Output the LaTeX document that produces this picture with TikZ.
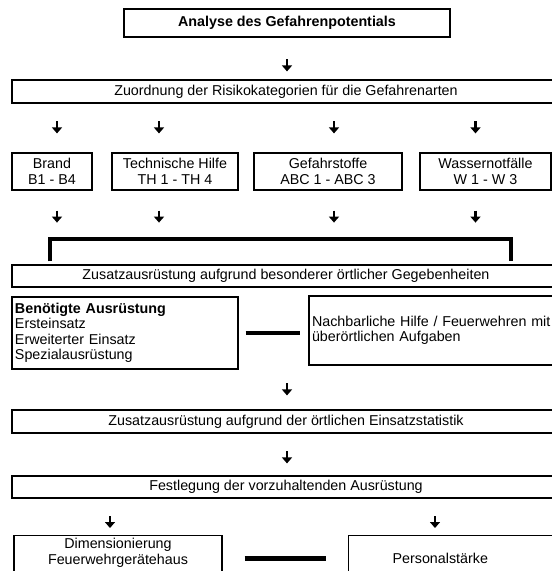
\documentclass[tikz,border=0pt]{standalone}
\usepackage{fontspec}
\setmainfont{Liberation Sans}
\usetikzlibrary{calc, arrows.meta, positioning}

\newcommand{\schrift}{\fontsize{14.3}{15.5}\selectfont}

\tikzset{
  kasten/.style = {draw, line width=1.2pt, inner sep=0pt, align=center, font=\schrift},
  pfeil/.style = {line width=2.4pt, -{Triangle[width=10pt, length=6pt]}},
  balken/.style = {line width=4.5pt},
  klammer/.style = {line width=4pt, line join=miter}
}

\begin{document}
\begin{tikzpicture}[x=1pt, y=1pt]
  \def\breite{548};
  \path[use as bounding box, clip] (0,0) rectangle (552,-571);

  % Analyse und Zuordnung
  \node[kasten, minimum width=326, minimum height=28, font=\schrift\bfseries] (analyse) at (287,-23) {Analyse des Gefahrenpotentials};
  \node[kasten, minimum width=\breite, minimum height=23] (zuordnung) at (286,-91.5) {Zuordnung der Risikokategorien für die Gefahrenarten};
  \draw[pfeil] ($(zuordnung.north)+(1,20)$) -- ++(0,-12);

  % Gefahrenarten
  \node[kasten, minimum width=80, minimum height=37] (brand) at (52,-171.5) {Brand\\B1 - B4};
  \node[kasten, minimum width=126, minimum height=37] (technik) at (175,-171.5) {Technische Hilfe\\TH 1 - TH 4};
  \node[kasten, minimum width=148, minimum height=37] (gefahr) at (328,-171.5) {Gefahrstoffe\\ABC 1 - ABC 3};
  \node[kasten, minimum width=131, minimum height=37] (wasser) at (485.5,-171.5) {Wassernotfälle\\W 1 - W 3};
  \foreach \n/\dx in {brand/5, technik/-16, gefahr/6, wasser/-10} {
    \draw[pfeil] ($(\n.north)+(\dx,31)$) -- ++(0,-12);
    \draw[pfeil] ($(\n.south)+(\dx,-20)$) -- ++(0,-12);
  }

  % besondere oertliche Gegebenheiten
  \node[kasten, minimum width=\breite, minimum height=22] (zusatz) at (286,-276) {Zusatzausrüstung aufgrund besonderer örtlicher Gegebenheiten};
  \draw[klammer] ($(zusatz.north west)+(39,3)$) |- ($(zusatz.north west)+(500,25)$) -- ++(0,-22);

  \node[kasten, minimum width=226, minimum height=72, text width=220, inner xsep=3, align=left] (ausruestung) at (125,-333)
    {\textbf{Benötigte Ausrüstung}\\Ersteinsatz\\Erweiterter Einsatz\\Spezialausrüstung};
  \node[kasten, minimum width=251, minimum height=69, text width=245, inner xsep=3, align=left] (nachbar) at (434.5,-330.5)
    {Nachbarliche Hilfe / Feuerwehren mit\\überörtlichen Aufgaben};
  \draw[balken, shorten <=7pt, shorten >=8pt] (ausruestung.east) -- (ausruestung.east -| nachbar.west);

  % Einsatzstatistik und Festlegung
  \node[kasten, minimum width=\breite, minimum height=23] (statistik) at (286,-421.5) {Zusatzausrüstung aufgrund der örtlichen Einsatzstatistik};
  \draw[pfeil] ($(statistik.north)+(1,26)$) -- ++(0,-12);
  \node[kasten, minimum width=\breite, minimum height=22] (festlegung) at (286,-487) {Festlegung der vorzuhaltenden Ausrüstung};
  \draw[pfeil] ($(festlegung.north)+(1,24)$) -- ++(0,-12);

  % Geraetehaus und Personal
  \node[kasten, anchor=north, minimum width=208, inner ysep=3, text depth=40pt] (haus) at (118,-535) {Dimensionierung\\Feuerwehrgerätehaus};
  \node[kasten, anchor=north west, minimum height=46, text width=150, inner xsep=44, align=left] (personal) at (348,-535) {Personalstärke};
  \draw[pfeil] ($(haus.north)+(-8,19)$) -- ++(0,-12);
  \draw[pfeil] ($(personal.north west)+(87,19)$) -- ++(0,-12);
  \draw[balken, shorten <=22pt, shorten >=22pt] (personal.west -| haus.east) -- (personal.west);
\end{tikzpicture}
\end{document}
